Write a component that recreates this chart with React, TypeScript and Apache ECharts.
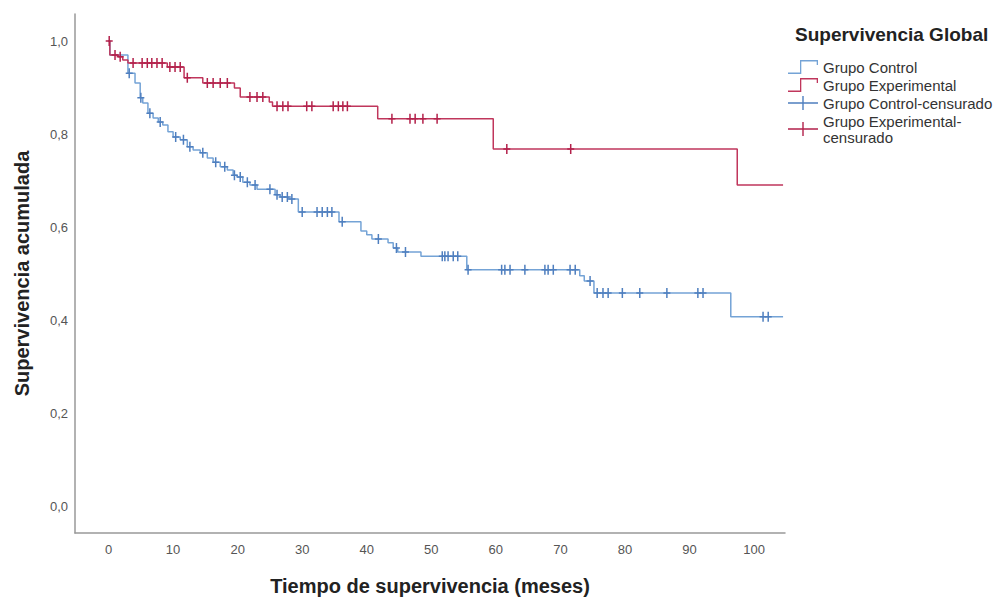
import React, { useEffect, useRef } from "react";
import * as echarts from "echarts";

const xTicks = [0, 10, 20, 30, 40, 50, 60, 70, 80, 90, 100];
const yTicks = [0, 0.2, 0.4, 0.6, 0.8, 1.0];

const controlTimes = [0, 0.2, 3.0, 4.1, 4.9, 5.3, 6.1, 6.9, 7.7, 8.4, 9.2, 10.0, 11.1, 12.2, 13.1, 14.2, 15.3, 16.2, 17.3, 18.4, 19.3, 19.9, 20.8, 21.9, 23.0, 25.8, 26.6, 27.8, 29.4, 35.7, 39.1, 40.0, 40.8, 43.3, 44.1, 44.8, 48.4, 55.5, 73.0, 73.7, 75.2, 96.4, 104.5];
const controlSurv = [1.0, 0.970, 0.931, 0.910, 0.878, 0.867, 0.845, 0.835, 0.826, 0.820, 0.805, 0.794, 0.788, 0.773, 0.766, 0.760, 0.749, 0.740, 0.730, 0.723, 0.712, 0.708, 0.697, 0.691, 0.682, 0.670, 0.665, 0.661, 0.633, 0.612, 0.592, 0.584, 0.575, 0.567, 0.556, 0.547, 0.538, 0.509, 0.496, 0.485, 0.459, 0.408, 0.408];
const controlCensored = [3.2, 5.0, 6.4, 8.0, 10.4, 11.6, 12.6, 14.6, 16.6, 18.0, 19.5, 20.4, 21.5, 22.7, 25.0, 26.1, 26.9, 27.7, 28.4, 30.0, 32.3, 33.1, 33.9, 34.6, 36.2, 41.8, 44.6, 46.0, 51.7, 52.1, 52.6, 53.4, 54.1, 55.7, 60.9, 61.4, 62.2, 64.5, 67.6, 68.1, 68.9, 71.5, 72.3, 74.6, 75.7, 76.6, 77.4, 79.6, 82.3, 86.5, 91.3, 92.1, 101.4, 102.2];

const expTimes = [0, 0.2, 1.5, 2.2, 3.0, 9.1, 11.7, 14.6, 19.5, 20.4, 24.9, 25.4, 41.7, 59.6, 97.4, 104.5];
const expSurv = [1.0, 0.970, 0.966, 0.959, 0.953, 0.944, 0.921, 0.910, 0.899, 0.880, 0.869, 0.860, 0.833, 0.768, 0.691, 0.691];
const expCensored = [0.1, 1.0, 1.8, 3.8, 5.2, 6.0, 6.7, 7.5, 8.3, 9.5, 10.3, 11.1, 12.2, 15.3, 16.2, 17.3, 18.4, 21.9, 23.0, 23.9, 26.1, 27.0, 27.8, 30.7, 31.5, 34.8, 35.6, 36.3, 37.0, 43.9, 46.7, 47.5, 48.7, 50.9, 61.7, 71.6];

const seriesNames = ["Grupo Control", "Grupo Experimental", "Grupo Control-censurado", "Grupo Experimental-censurado"];

function survAt(times: number[], surv: number[], t: number): number {
  let v = surv[0];
  for (let i = 0; i < times.length; i++) {
    if (times[i] <= t) v = surv[i];
    else break;
  }
  return v;
}

const stepIcon = "path://M0,11 h13.3 v1.3 h-13.3 Z M12,1 h1.3 v11.3 h-1.3 Z M12,1 h18 v1.3 h-18 Z M28.7,1 h1.3 v4 h-1.3 Z";
const plusIcon = "path://M0,6.3 h30 v1.4 h-30 Z M14.3,0 h1.4 v14 h-1.4 Z";
const plusMark = "path://M0,4.25 h7 v1.5 h-7 Z M2.75,0 h1.5 v10 h-1.5 Z";

const BLUE_LINE = "#74a3d6";
const RED_LINE = "#c0365c";
const BLUE_MARK = "#4f7fbf";
const RED_MARK = "#b3214b";
const FONT = "'Liberation Sans', Arial, sans-serif";

export default function App() {
  const ref = useRef<HTMLDivElement>(null);
  useEffect(() => {
    if (!ref.current) return;
    const chart = echarts.init(ref.current, undefined, { renderer: "svg" });
    const option: any = {
      animation: false,
      backgroundColor: "#ffffff",
      textStyle: { fontFamily: FONT },
      title: {
        text: "Supervivencia Global",
        left: 790,
        top: 20,
        textStyle: { fontFamily: FONT, fontSize: 19, fontWeight: "bold", color: "#222" },
      },
      legend: {
        orient: "vertical",
        left: 783,
        top: 54,
        itemWidth: 30,
        itemHeight: 14,
        itemGap: 2,
        symbolKeepAspect: false,
        textStyle: { fontFamily: FONT, fontSize: 15, color: "#333", lineHeight: 16 },
        formatter: (name: string) => (name === "Grupo Experimental-censurado" ? "Grupo Experimental-\ncensurado" : name),
        data: [
          { name: seriesNames[0], icon: stepIcon },
          { name: seriesNames[1], icon: stepIcon },
          { name: seriesNames[2], icon: plusIcon },
          { name: seriesNames[3], icon: plusIcon },
        ],
      },
      grid: { left: 75, top: 14, right: 219, bottom: 69, containLabel: false },
      xAxis: {
        type: "value",
        min: -5.2,
        max: 104.8,
        name: "Tiempo de supervivencia (meses)",
        nameLocation: "middle",
        nameGap: 43,
        nameTextStyle: { fontFamily: FONT, fontSize: 20, fontWeight: "bold", color: "#222" },
        axisLine: { show: true, onZero: false, lineStyle: { color: "#999", width: 1.5 } },
        axisTick: { show: false },
        splitLine: { show: false },
        axisLabel: {
          customValues: xTicks,
          margin: 10,
          fontSize: 13,
          color: "#555",
          fontFamily: FONT,
          formatter: (v: number) => String(Math.round(v)),
        },
      },
      yAxis: {
        type: "value",
        min: -0.056,
        max: 1.058,
        name: "Supervivencia acumulada",
        nameLocation: "middle",
        nameGap: 43,
        nameTextStyle: { fontFamily: FONT, fontSize: 20, fontWeight: "bold", color: "#222" },
        axisLine: { show: true, onZero: false, lineStyle: { color: "#999", width: 1.5 } },
        axisTick: { show: false },
        splitLine: { show: false },
        axisLabel: {
          customValues: yTicks,
          margin: 7,
          fontSize: 13,
          color: "#555",
          fontFamily: FONT,
          formatter: (v: number) => v.toFixed(1).replace(".", ","),
        },
      },
      series: [
        {
          name: seriesNames[0],
          type: "line",
          step: "end",
          showSymbol: false,
          symbol: "none",
          itemStyle: { color: BLUE_LINE },
          lineStyle: { color: BLUE_LINE, width: 1.5 },
          data: controlTimes.map((t, i) => [t, controlSurv[i]]),
          z: 2,
        },
        {
          name: seriesNames[1],
          type: "line",
          step: "end",
          showSymbol: false,
          symbol: "none",
          itemStyle: { color: RED_LINE },
          lineStyle: { color: RED_LINE, width: 1.5 },
          data: expTimes.map((t, i) => [t, expSurv[i]]),
          z: 3,
        },
        {
          name: seriesNames[2],
          type: "scatter",
          symbol: plusMark,
          symbolSize: [7, 10],
          symbolKeepAspect: false,
          itemStyle: { color: BLUE_MARK, opacity: 1 },
          data: controlCensored.map((t) => [t, survAt(controlTimes, controlSurv, t)]),
          z: 4,
        },
        {
          name: seriesNames[3],
          type: "scatter",
          symbol: plusMark,
          symbolSize: [7, 10],
          symbolKeepAspect: false,
          itemStyle: { color: RED_MARK, opacity: 1 },
          data: expCensored.map((t) => [t, survAt(expTimes, expSurv, t)]),
          z: 5,
        },
      ],
    };
    chart.setOption(option);
    return () => chart.dispose();
  }, []);
  return <div ref={ref} style={{ width: 1004, height: 602, position: "absolute", left: 0, top: 0 }} />;
}
